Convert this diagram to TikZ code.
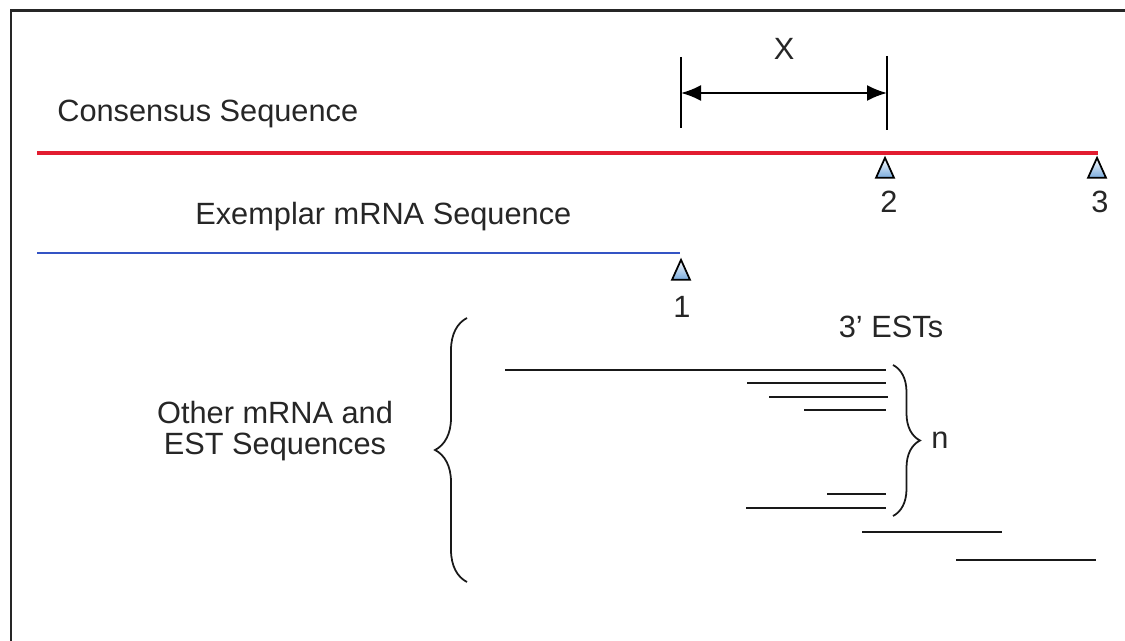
\documentclass[tikz,border=0pt]{standalone}
\usepackage{fontspec}
\setmainfont{Liberation Sans}
\usetikzlibrary{
    arrows.meta,
    decorations.pathreplacing,
    shapes.geometric,
    positioning
}
\definecolor{consred}{RGB}{226,28,48}
\definecolor{exblue}{RGB}{52,84,196}
\definecolor{markblue}{RGB}{120,170,220}
\tikzset{seqtext/.style={inner sep=0pt, font=\fontsize{17.5}{17.6}\selectfont, text=black!85}}
\tikzset{polya/.style={isosceles triangle, shape border rotate=90, isosceles triangle stretches,
    minimum width=0.36cm, minimum height=0.40cm, inner sep=0pt, draw=black, line width=1pt,
    top color=white, bottom color=markblue}}
\tikzset{est/.style={line width=1.1pt, black!90}}
\tikzset{bracket/.style={decorate, line width=1pt, black!90}}

\begin{document}
\begin{tikzpicture}[x=0.02cm, y=-0.02cm]
                        \useasboundingbox (0,0) rectangle (1125,641);
                        \draw[line width=1.7pt, black!85] (11,641) -- (11,11) -- (1125,11);
                        \node[seqtext, anchor=base] (xlab) at (784,60) {X};
                        \coordinate (xl) at (681,93);
                        \coordinate (xr) at (887,93);
                        \draw[line width=1.1pt]
                        (681,57) -- (681,128)
                        (887,56) -- (887,130);
                        \draw[line width=1.2pt, {Latex[length=0.4cm, width=0.32cm]}-{Latex[length=0.4cm, width=0.32cm]}] (xl) -- (xr);
                        \node[seqtext, anchor=base west] (cons) at (57,122) {Consensus Sequence};
                        \draw[line width=2.8pt, consred] (37,153) -- (1098,153);
                        \node[polya] (m2) at (885,172) {};
                        \node[polya] (m3) at (1097,172) {};
                        \node[seqtext, anchor=base] (n2) at (889,213) {2};
                        \node[seqtext, anchor=base] (n3) at (1100,213) {3};
                        \node[seqtext, anchor=base west] (exem) at (195,225) {Exemplar mRNA Sequence};
                        \draw[line width=1.7pt, exblue] (37,253) -- (680,253);
                        \node[polya] (m1) at (681,274) {};
                        \node[seqtext, anchor=base] (n1) at (682,318) {1};
                        \node[seqtext, align=center, anchor=north] (other) at (275,401) {Other mRNA and\\EST Sequences};
                        \draw[bracket, decoration={brace, amplitude=0.64cm}] (467,582) -- (467,318);
                        \node[seqtext, anchor=base] (ests) at (891,338) {3' ESTs};
                        \draw[est]
                        (505,370) -- (886,370)
                        (747,383) -- (886,383)
                        (769,397) -- (888,397)
                        (804,410) -- (886,410)
                        (827,494) -- (886,494)
                        (746,508) -- (886,508)
                        (862,532) -- (1002,532)
                        (956,560) -- (1096,560);
                        \draw[bracket, decoration={brace, amplitude=0.54cm}] (893,365) -- (893,516);
                        \node[seqtext, anchor=base] (nlab) at (940,448) {n};
                    \end{tikzpicture}
\end{document}
